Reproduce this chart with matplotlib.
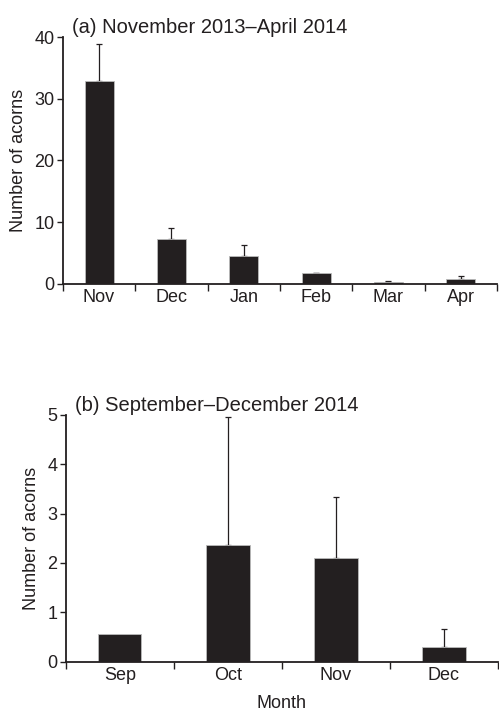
import matplotlib.pyplot as plt
import numpy as np

plt.rcParams['font.family'] = ['Liberation Sans', 'DejaVu Sans']

# (a) November 2013 - April 2014
months_a = ['Nov', 'Dec', 'Jan', 'Feb', 'Mar', 'Apr']
mean_a = [32.8, 7.3, 4.5, 1.7, 0.25, 0.7]
err_a = [6.0, 1.8, 1.8, 0.1, 0.25, 0.6]

# (b) September - December 2014
months_b = ['Sep', 'Oct', 'Nov', 'Dec']
mean_b = [0.56, 2.37, 2.11, 0.30]
err_b = [0.0, 2.59, 1.23, 0.37]

ink = '#231f20'


def draw_panel(ax, months, means, errs, ymax, yticks, title):
    x = np.arange(len(months))
    ax.bar(x, means, width=0.4, color=ink, edgecolor='#bbbbbb', linewidth=0.6, zorder=2)
    # upper error bars only, skipping months without spread
    has_err = [i for i, e in enumerate(errs) if e > 0]
    ax.errorbar(x[has_err], np.array(means)[has_err],
                yerr=[np.zeros(len(has_err)), np.array(errs)[has_err]], fmt='none',
                ecolor=ink, elinewidth=0.9, capsize=2.5, capthick=0.9, zorder=1)
    ax.set_xlim(-0.5, len(months) - 0.5)
    ax.set_ylim(0, ymax)
    ax.set_yticks(yticks)
    # category labels sit between boundary ticks
    ax.set_xticks(np.arange(len(months) + 1) - 0.5)
    ax.set_xticklabels([])
    ax.set_xticks(x, minor=True)
    ax.set_xticklabels(months, minor=True)
    ax.tick_params(axis='x', which='major', direction='out', length=5, width=1, color=ink)
    ax.tick_params(axis='x', which='minor', length=0, labelsize=13, labelcolor=ink, pad=4)
    ax.tick_params(axis='y', direction='out', length=4, width=1, color=ink,
                   labelsize=13, labelcolor=ink, pad=2)
    for side in ('top', 'right'):
        ax.spines[side].set_visible(False)
    for side in ('left', 'bottom'):
        ax.spines[side].set_linewidth(1.3)
        ax.spines[side].set_color(ink)
    ax.set_ylabel('Number of acorns', fontsize=13, color=ink, labelpad=5)
    ax.text(0.02, 1.0, title, transform=ax.transAxes, fontsize=14.5, color=ink,
            ha='left', va='bottom')


fig = plt.figure(figsize=(4.99, 7.13), dpi=100)
ax_a = fig.add_axes([0.126, 0.602, 0.870, 0.346])
ax_b = fig.add_axes([0.132, 0.072, 0.866, 0.346])

draw_panel(ax_a, months_a, mean_a, err_a, 40, [0, 10, 20, 30, 40],
           '(a) November 2013\u2013April 2014')
draw_panel(ax_b, months_b, mean_b, err_b, 5, [0, 1, 2, 3, 4, 5],
           '(b) September\u2013December 2014')
ax_b.set_xlabel('Month', fontsize=13, color=ink, labelpad=8)

fig.savefig('out.png', dpi=100)
